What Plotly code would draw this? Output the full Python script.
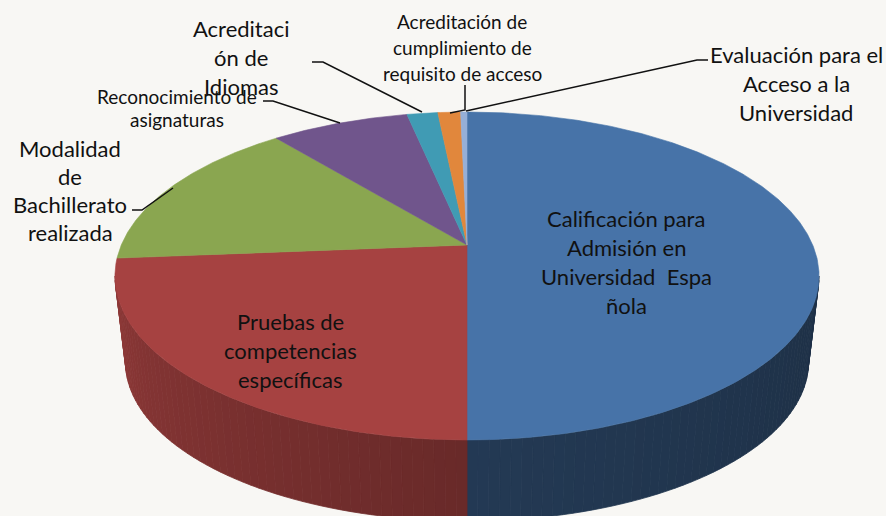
import numpy as np
import plotly.graph_objects as go

# ---------------- data ----------------
categories = [
    "Calificación para Admisión en Universidad Española",
    "Pruebas de competencias específicas",
    "Modalidad de Bachillerato realizada",
    "Reconocimiento de asignaturas",
    "Acreditación de Idiomas",
    "Acreditación de cumplimiento de requisito de acceso",
    "Evaluación para el Acceso a la Universidad",
]
values = [50.0, 23.7, 15.4, 7.6, 1.7, 1.25, 0.35]
colors = [
    (71, 115, 168),
    (166, 66, 65),
    (138, 166, 80),
    (112, 85, 140),
    (64, 155, 180),
    (225, 135, 60),
    (150, 175, 215),
]
label_lines = [
    ["Calificación para", "Admisión en", "Universidad\u00a0 Espa", "ñola"],
    ["Pruebas de", "competencias", "específicas"],
    ["Modalidad", "de", "Bachillerato", "realizada"],
    ["Reconocimiento de", "asignaturas"],
    ["Acreditaci", "ón de", "Idiomas"],
    ["Acreditación de", "cumplimiento de", "requisito de acceso"],
    ["Evaluación para el", "Acceso a la", "Universidad"],
]

# ---------------- geometry (pseudo 3D pie) ----------------
W, H = 886, 516
CX, CY = 467, 245
A, B, K = 345.7, 158.1, 0.189
S, D = 0.97, 87
# silhouette angles (tangent points of the top ellipse)
T_RIGHT = 180 - np.degrees(np.arccos(K))
T_LEFT = 180 + np.degrees(np.arccos(K))


def proj(theta_deg, bottom=False):
    t = np.radians(theta_deg)
    X = np.sin(t)
    Y = -np.cos(t)
    w = 1 - K * Y
    if bottom:
        return CX + S * A * X / w, CY + D + S * B * Y / w
    return CX + A * X / w, CY + B * Y / w


def rgb(c, f=1.0):
    return "rgb(%d,%d,%d)" % tuple(max(0, min(255, int(round(v * f)))) for v in c)


def shade(theta):
    if theta <= 180:
        return 0.40 + (theta - 90) / 90 * 0.10
    if theta <= 270:
        return 0.63 + (theta - 180) / 90 * 0.25
    return 0.88


total = sum(values)
bounds = np.concatenate([[0], np.cumsum(values) / total * 360])

fig = go.Figure()

# side walls (drawn first)
for i, c in enumerate(colors):
    a, b = bounds[i], bounds[i + 1]
    lo, hi = max(a, T_RIGHT), min(b, T_LEFT)
    if hi <= lo:
        continue
    n = max(1, int(np.ceil((hi - lo) / 1.5)))
    edges = np.linspace(lo, hi, n + 1)
    for t1, t2 in zip(edges[:-1], edges[1:]):
        ts = np.linspace(t1, t2, 4)
        tx, ty = proj(ts)
        bx, by = proj(ts[::-1], bottom=True)
        col = rgb(c, shade((t1 + t2) / 2))
        fig.add_trace(go.Scatter(
            x=np.concatenate([tx, bx, tx[:1]]),
            y=np.concatenate([ty, by, ty[:1]]),
            mode="lines", fill="toself", fillcolor=col,
            line=dict(color=col, width=0.8), hoverinfo="skip", showlegend=False))

# top faces
for i, c in enumerate(colors):
    a, b = bounds[i], bounds[i + 1]
    ts = np.linspace(a, b, max(4, int((b - a) * 2)))
    ax_, ay_ = proj(ts)
    col = rgb(c)
    fig.add_trace(go.Scatter(
        x=np.concatenate([[CX], ax_, [CX]]),
        y=np.concatenate([[CY], ay_, [CY]]),
        mode="lines", fill="toself", fillcolor=col,
        line=dict(color=col, width=0.6), name=categories[i],
        hoverinfo="name", showlegend=False))

# ---------------- labels ----------------
# (center x, first line y, line spacing, font size)
label_pos = [
    (626, 218, 29, 22),
    (290, 321, 29, 22),
    (70, 148, 28.3, 22),
    (177, 96, 23, 19),
    (241, 28, 29, 22),
    (462, 21, 26, 19),
    (796, 54, 29, 22),
]
annotations = []
for lines, (x0, y0, dy, fs) in zip(label_lines, label_pos):
    for j, line in enumerate(lines):
        annotations.append(dict(
            x=x0, y=y0 + j * dy, xref="x", yref="y", text=line,
            showarrow=False, xanchor="center", yanchor="middle",
            font=dict(family="Lato, Carlito, Calibri, sans-serif", size=fs, color="#111111")))

leaders = [
    "M132,210 L142,210 L173,188",
    "M263,101 L273,101 L340,123",
    "M312,62 L323,62 L422,112",
    "M465,85 L465,110 L450,113",
    "M708,60 L697,60 L466,111",
]
shapes = [dict(type="path", path=p, xref="x", yref="y",
               line=dict(color="#111111", width=1.5)) for p in leaders]

fig.update_layout(
    width=W, height=H,
    margin=dict(l=0, r=0, t=0, b=0),
    paper_bgcolor="#F8F7F4", plot_bgcolor="#F8F7F4",
    xaxis=dict(range=[0, W], visible=False, fixedrange=True),
    yaxis=dict(range=[H, 0], visible=False, fixedrange=True),
    annotations=annotations, shapes=shapes,
    showlegend=False,
)
fig.write_html(
    "out.html",
    config={"displayModeBar": False},
    post_script="document.body.style.margin='0';document.body.style.overflow='hidden';",
)
